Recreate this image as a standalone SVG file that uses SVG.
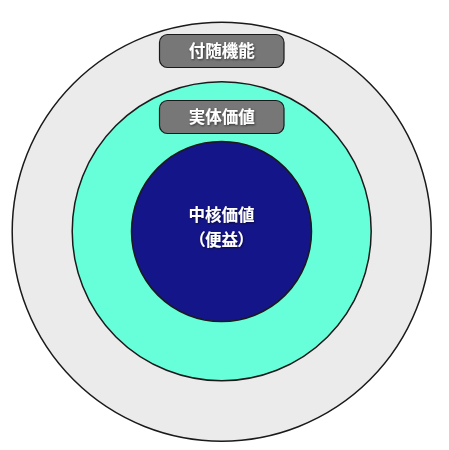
<svg xmlns="http://www.w3.org/2000/svg" width="449" height="450" viewBox="0 0 449 450">
<defs>
<style>
.ring{stroke:#1a1a1a;stroke-width:1.5}
.box{fill:#777777;stroke:#1a1a1a;stroke-width:1.2}
.lbl{font-family:"Noto Sans CJK JP","Noto Sans CJK SC",sans-serif;font-weight:bold;font-size:16.5px;fill:#ffffff;text-anchor:middle;filter:url(#sh)}
.palt{font-feature-settings:"palt" 1}
</style>
<filter id="sh" x="-20%" y="-30%" width="140%" height="160%">
<feDropShadow dx="0.8" dy="1" stdDeviation="0.8" flood-color="#000000" flood-opacity="0.6"/>
</filter>
</defs>
<rect width="449" height="450" fill="#ffffff"/>
<g id="outer">
<circle class="ring" cx="221.7" cy="231.7" r="209.5" fill="#ebebeb"/>
</g>
<g id="middle">
<circle class="ring" cx="221.7" cy="231.3" r="149.5" fill="#66ffd9"/>
</g>
<g id="inner">
<circle class="ring" cx="221.5" cy="231.5" r="90" fill="#15158a"/>
<text class="lbl" x="221.5" y="221">中核価値</text>
<text class="lbl palt" x="221.5" y="246">（便益）</text>
</g>
<g id="label-fuzui">
<rect class="box" x="159.5" y="34.5" width="124.5" height="33" rx="8"/>
<text class="lbl" x="221.7" y="57">付随機能</text>
</g>
<g id="label-jittai">
<rect class="box" x="159.5" y="100.5" width="124.5" height="33" rx="8"/>
<text class="lbl" x="221.7" y="123">実体価値</text>
</g>
<g id="connectors"></g>
</svg>
